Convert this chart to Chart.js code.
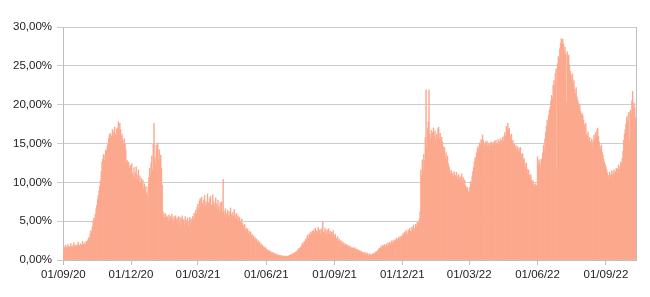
<!DOCTYPE html>
<html>
<head>
<meta charset="utf-8">
<script src="https://cdn.jsdelivr.net/npm/chart.js@4.4.0/dist/chart.umd.min.js"></script>
<style>
    html, body { margin: 0; padding: 0; background: #fff; }
    #box { width: 650px; height: 297px; }
</style>
</head>
<body>
<div id="box"><canvas id="grafico"></canvas></div>
<script>
// primo giorno della serie (un valore al giorno)
var dataInizio = '01/09/20';

var positivita = [
    // set 2020
    1.5,1.7,1.4,1.9,1.6,1.5,2.0,1.7,1.6,1.8,2.1,1.7,1.6,1.9,2.2,1.8,1.7,2.0,1.8,1.9,2.3,1.9,1.8,2.1,1.9,2.0,2.4,2.0,1.9,2.2,
    // ott 2020
    2.1,2.4,2.3,2.6,2.9,2.7,3.3,3.8,3.6,4.3,5.0,5.4,5.2,5.9,6.6,7.0,7.8,8.3,8.9,9.5,10.2,11.4,12.6,13.0,13.6,12.8,13.5,14.2,14.0,14.6,15.0,
    // nov 2020
    15.6,16.1,16.3,15.2,16.0,16.8,15.9,16.5,17.1,16.2,15.8,16.9,17.0,17.8,16.4,17.6,16.8,15.9,16.2,15.4,14.9,15.6,15.0,14.2,12.5,12.8,11.9,12.6,11.8,12.2,
    // dic 2020
    11.5,12.4,11.2,10.8,11.9,10.6,11.3,12.0,10.9,10.4,11.6,10.1,10.8,10.0,10.5,9.6,10.3,9.2,9.8,8.9,9.5,8.6,8.2,9.4,10.6,11.8,10.9,12.5,13.4,11.6,14.9,
    // gen 2021
    17.6,13.2,12.4,14.8,13.6,15.1,12.9,14.2,13.0,13.5,11.8,9.6,6.2,5.8,5.4,6.0,5.2,5.7,5.5,4.9,5.8,5.3,5.6,5.0,5.9,5.4,4.8,5.6,5.2,5.7,5.1,
    // feb 2021
    5.4,4.6,5.6,5.0,5.5,4.4,5.3,5.7,4.9,5.2,4.5,5.6,5.1,4.8,5.4,4.3,5.0,5.5,4.7,5.3,4.9,5.6,5.2,6.0,5.5,6.4,5.9,6.8,
    // mar 2021
    7.2,6.5,7.6,7.9,6.8,8.1,7.3,6.6,7.7,8.3,7.0,7.5,6.9,8.5,7.4,6.7,7.9,8.2,7.1,6.9,8.4,7.6,6.8,7.3,8.0,7.2,6.5,7.7,6.9,6.3,7.4,
    // apr 2021
    6.8,7.5,6.1,10.4,6.3,5.8,6.6,6.0,5.4,6.4,5.7,6.2,5.5,6.7,5.9,5.3,6.1,5.6,6.5,5.8,5.2,6.0,5.4,5.7,4.9,5.5,5.0,4.6,5.3,4.7,
    // mag 2021
    4.4,3.9,4.6,3.8,4.1,3.5,4.0,3.4,3.7,3.2,3.6,3.0,3.3,2.8,3.1,2.7,2.9,2.5,2.7,2.3,2.5,2.1,2.3,1.9,2.1,1.8,1.9,1.6,1.7,1.5,1.6,
    // giu 2021
    1.4,1.2,1.3,1.1,1.2,1.0,1.1,0.9,1.0,0.8,0.9,0.8,0.7,0.8,0.6,0.7,0.6,0.5,0.6,0.5,0.6,0.5,0.4,0.5,0.4,0.5,0.4,0.5,0.4,0.5,
    // lug 2021
    0.5,0.6,0.5,0.7,0.6,0.8,0.7,0.9,0.8,1.0,1.1,1.0,1.3,1.2,1.5,1.4,1.7,1.6,2.0,2.2,1.9,2.4,2.2,2.7,2.5,3.0,3.2,2.8,3.4,3.1,3.6,
    // ago 2021
    3.3,3.7,3.2,3.9,3.5,4.1,3.4,3.8,3.6,4.2,3.5,3.9,3.3,4.0,3.7,4.9,3.6,3.4,4.1,3.8,3.2,3.9,3.5,4.0,3.3,3.7,3.1,3.6,3.4,3.8,3.2,
    // set 2021
    3.0,3.3,2.8,2.6,3.0,2.4,2.7,2.3,2.5,2.2,2.4,2.0,2.2,1.9,2.1,1.8,2.0,1.7,1.9,1.6,1.8,1.5,1.7,1.4,1.6,1.5,1.3,1.6,1.4,1.3,
    // ott 2021
    1.4,1.2,1.3,1.1,1.2,1.0,1.1,0.9,1.0,0.9,0.8,1.0,0.8,0.7,0.9,0.7,0.6,0.8,0.6,0.7,0.6,0.8,0.7,0.9,0.8,1.0,1.1,0.9,1.2,1.3,1.5,
    // nov 2021
    1.4,1.7,1.5,1.9,1.6,1.8,2.0,1.7,1.9,2.1,1.8,2.2,1.9,2.3,2.0,2.2,2.5,2.1,2.4,2.6,2.3,2.5,2.8,2.4,2.7,2.9,2.6,3.0,2.8,3.1,
    // dic 2021
    3.0,3.4,3.1,3.6,3.3,3.8,3.5,3.2,3.9,3.6,4.1,3.7,3.4,4.2,3.9,4.5,4.1,3.8,4.6,4.3,4.9,4.5,4.8,5.3,6.2,11.6,10.8,12.9,11.4,13.6,12.8,
    // gen 2022
    15.8,21.9,14.5,16.9,17.8,21.9,16.2,15.6,16.7,15.9,16.4,17.0,15.8,16.6,15.5,16.2,15.7,16.9,17.1,15.6,16.3,14.9,15.8,15.2,14.6,14.0,14.5,13.2,13.8,12.9,13.4,
    // feb 2022
    12.4,12.0,11.6,11.0,11.5,10.6,11.2,10.8,11.4,10.5,10.9,11.3,10.4,10.8,11.0,10.3,10.7,10.5,11.1,10.2,10.6,9.9,10.3,9.6,9.4,9.0,9.3,8.8,
    // mar 2022
    8.7,9.4,10.1,9.8,10.8,11.4,11.9,12.6,13.2,12.9,13.8,14.3,14.6,14.2,15.1,14.8,15.5,15.2,16.1,15.4,15.0,14.6,15.2,14.8,15.3,14.7,15.0,14.5,15.1,14.8,15.2,
    // apr 2022
    14.7,15.1,14.9,15.3,14.8,15.4,15.0,14.9,15.5,15.1,15.2,15.6,15.0,15.4,15.8,15.3,16.0,16.4,15.9,17.2,16.5,17.6,16.8,17.0,16.1,15.6,16.2,15.1,15.4,14.8,
    // mag 2022
    14.9,14.3,14.7,14.1,14.6,13.9,14.4,14.0,14.5,13.6,13.2,13.7,12.8,13.1,12.4,12.0,12.5,11.7,11.2,11.6,10.9,10.5,11.0,10.3,9.9,10.2,9.7,9.5,9.8,9.4,9.6,
    // giu 2022
    13.3,12.2,12.9,12.5,11.9,13.0,12.6,13.8,14.8,14.2,15.6,16.4,17.2,18.0,17.5,18.6,19.3,19.7,20.5,21.2,20.8,22.5,23.1,22.4,24.0,24.6,11.8,25.3,26.2,25.8,
    // lug 2022
    27.2,27.9,28.5,27.6,28.4,27.8,26.9,27.4,26.5,20.2,26.8,25.9,26.4,25.1,24.3,23.8,23.2,24.0,22.6,23.1,22.0,21.4,22.2,21.0,20.6,20.2,19.5,20.0,19.1,18.6,18.9,
    // ago 2022
    18.6,18.0,17.4,16.8,17.6,16.2,15.9,16.5,15.4,15.8,15.2,14.9,15.6,14.8,15.3,16.1,15.5,16.4,15.8,16.7,17.0,15.9,15.2,14.6,14.2,14.8,13.9,13.5,13.0,12.6,12.3,
    // set 2022
    12.0,11.6,11.2,10.9,10.5,11.3,10.8,11.0,11.5,10.9,11.2,11.6,11.0,11.4,11.8,11.3,11.7,12.2,11.6,12.0,12.6,12.4,13.1,14.0,15.4,16.2,16.8,17.5,18.4,17.9,
    // ott 2022
    18.6,19.0,15.4,19.3,18.8,20.5,21.7,19.8,20.2,19.6,18.3
];

// etichette dell'asse x (una ogni tre mesi)
var tickLabels = ['01/09/20','01/12/20','01/03/21','01/06/21','01/09/21','01/12/21','01/03/22','01/06/22','01/09/22'];

// valori dell'asse y (%)
var yMin = 0;
var yMax = 30;
var yStep = 5;

// -------------------------------------------------

// da 'gg/mm/aa' al numero di giorni dall'inizio della serie
function giorno(s) {
    var p = s.split('/');
    return Date.UTC(2000 + Number(p[2]), Number(p[1]) - 1, Number(p[0]));
}
var t0 = giorno(dataInizio);
var tickDays = tickLabels.map(function (s) { return Math.round((giorno(s) - t0) / 86400000); });

var punti = [];
for (var i = 0; i < positivita.length; i++) {
    punti.push({ x: i, y: positivita[i] });
}

var grigio = '#bdbdbd';
var font = { family: '"Liberation Sans", Arial, sans-serif', size: 11.5 };

// linea di chiusura a destra del riquadro
var bordoDestro = {
    id: 'bordoDestro',
    afterDraw: function (chart) {
        var a = chart.chartArea;
        var c = chart.ctx;
        c.save();
        c.strokeStyle = grigio;
        c.lineWidth = 1;
        c.beginPath();
        c.moveTo(Math.round(a.right) + 0.5, a.top);
        c.lineTo(Math.round(a.right) + 0.5, a.bottom);
        c.stroke();
        c.restore();
    }
};

var ctx = document.getElementById('grafico');
var chart = new Chart(ctx, {
    type: 'bar',
    data: {
        datasets: [{
            data: punti,
            backgroundColor: '#fba88d',
            borderWidth: 0,
            barPercentage: 1,
            categoryPercentage: 1
        }]
    },
    options: {
        responsive: true,
        maintainAspectRatio: false,
        animation: false,
        layout: { padding: { top: 27, right: 14, left: 0, bottom: 0 } },
        plugins: { legend: { display: false }, tooltip: { enabled: false } },
        scales: {
            x: {
                type: 'linear',
                min: -0.5,
                max: positivita.length - 0.5,
                offset: false,
                z: 1,
                afterBuildTicks: function (scale) {
                    scale.ticks = tickDays.map(function (d) { return { value: d }; });
                },
                afterFit: function (scale) { scale.height = 37; },
                grid: { drawOnChartArea: false, offset: false, tickLength: 5, color: grigio },
                border: { color: grigio },
                ticks: {
                    color: '#222',
                    font: font,
                    padding: 3,
                    maxRotation: 0,
                    autoSkip: false,
                    callback: function (v) {
                        var k = tickDays.indexOf(v);
                        return k >= 0 ? tickLabels[k] : '';
                    }
                }
            },
            y: {
                min: yMin,
                max: yMax,
                z: 1,
                afterFit: function (scale) { scale.width = 63; },
                grid: { color: 'rgba(0,0,0,0.2)', tickLength: 6 },
                border: { color: grigio },
                ticks: {
                    stepSize: yStep,
                    color: '#222',
                    font: font,
                    padding: 5,
                    callback: function (v) { return v.toFixed(2).replace('.', ',') + '%'; }
                }
            }
        }
    },
    plugins: [bordoDestro]
});
</script>
</body>
</html>
